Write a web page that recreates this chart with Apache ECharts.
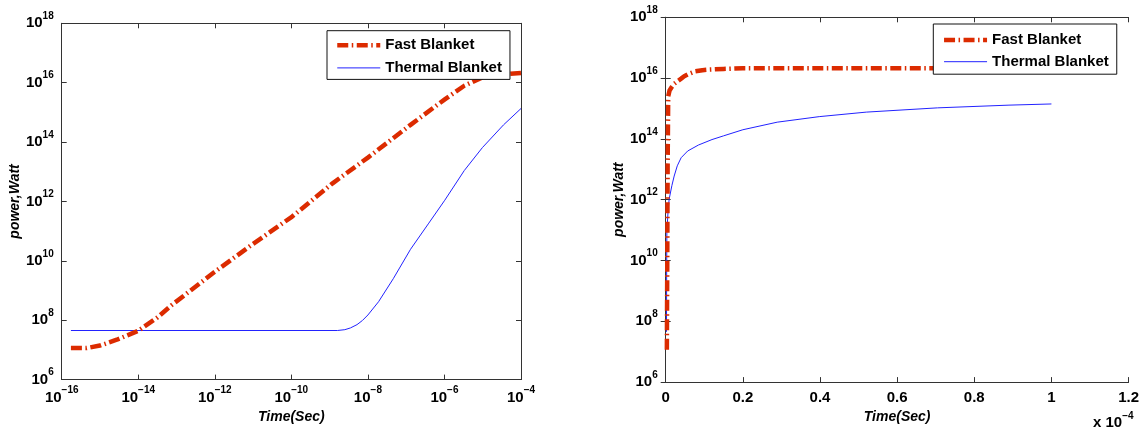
<!DOCTYPE html>
<html>
<head>
<meta charset="utf-8">
<script src="https://cdn.jsdelivr.net/npm/echarts@6/dist/echarts.min.js"></script>
<style>
html,body{margin:0;padding:0;background:#fff;}
#c{width:1142px;height:429px;}
</style>
</head>
<body>
<div id="c"></div>
<script>
// ---------------- data ----------------
const seriesNames = ['Fast Blanket', 'Thermal Blanket'];

// Left panel: log-log, time in seconds, power in watts
const leftFastTime  = [1.74e-16, 4.5e-16, 1e-15, 2.75e-15, 1e-14, 3.2e-14, 7.4e-14, 9.8e-13, 8.5e-12, 1.05e-10, 1.17e-9, 1e-8, 1.3e-7, 1.02e-6, 3.3e-6, 9.8e-6, 3.2e-5, 1e-4];
const leftFastPower = [1.15e7, 1.15e7, 1.4e7, 2.2e7, 4.4e7, 1.25e8, 3.2e8, 4.2e9, 3.2e10, 3.1e11, 4.0e12, 3.0e13, 3.8e14, 2.75e15, 7.9e15, 1.5e16, 1.9e16, 2.1e16];

const leftThermalTime  = [1.74e-16, 1.6e-9, 2.5e-9, 3.5e-9, 5.2e-9, 7.2e-9, 1e-8, 1.9e-8, 4.6e-8, 1.3e-7, 3.9e-7, 1.02e-6, 3.3e-6, 9.8e-6, 3.5e-5, 1e-4];
const leftThermalPower = [4.5e7, 4.5e7, 4.8e7, 5.5e7, 7.1e7, 9.8e7, 1.5e8, 4.2e8, 2.5e9, 2.45e10, 1.86e11, 1.1e12, 1.1e13, 6.5e13, 3.8e14, 1.35e15];

// Right panel: linear time axis in units of 1e-4 s, log power
const rightFastTime  = [0.003, 0.004, 0.005, 0.0065, 0.01, 0.0157, 0.022, 0.03, 0.04, 0.048, 0.06, 0.076, 0.095, 0.113, 0.15, 0.2, 0.3, 0.5, 0.7, 1.0];
const rightFastPower = [1.15e7, 7e9, 1.3e13, 2.5e15, 3.9e15, 5.1e15, 6.5e15, 7.8e15, 9.6e15, 1.15e16, 1.38e16, 1.66e16, 1.82e16, 1.9e16, 2.0e16, 2.1e16, 2.1e16, 2.1e16, 2.1e16, 2.1e16];

const rightThermalTime  = [0.002, 0.0025, 0.003, 0.006, 0.009, 0.016, 0.022, 0.03, 0.04, 0.057, 0.085, 0.12, 0.15, 0.2, 0.289, 0.398, 0.52, 0.705, 0.89, 1.0];
const rightThermalPower = [4.5e7, 5e9, 8.5e10, 3.9e11, 1.05e12, 2.9e12, 6e12, 1.3e13, 2.4e13, 4.0e13, 6.3e13, 9.5e13, 1.26e14, 2.0e14, 3.55e14, 5.4e14, 7.6e14, 1.05e15, 1.29e15, 1.41e15];

// Tick labels
const powerTicks = [1e6, 1e8, 1e10, 1e12, 1e14, 1e16, 1e18];
const leftTimeTicks = [1e-16, 1e-14, 1e-12, 1e-10, 1e-8, 1e-6, 1e-4];
const rightTimeTicks = [0, 0.2, 0.4, 0.6, 0.8, 1, 1.2];
const rightTimeExponent = -4;

const xTitle = 'Time(Sec)';
const yTitle = 'power,Watt';

// ---------------- styling ----------------
const FONT = '"Liberation Sans", Arial, Helvetica, sans-serif';
const RED = '#dc2b00';
const BLUE = '#2222ff';
const AXIS = '#333';

const rich = {
  b: {fontSize: 15, fontWeight: 'bold', fontFamily: FONT, color: '#000', lineHeight: 24},
  s: {fontSize: 10, fontWeight: 'bold', fontFamily: FONT, color: '#000', lineHeight: 10, verticalAlign: 'top'}
};
function powLabel(v) {
  const e = Math.round(Math.log10(v));
  return '{b|10}{s|' + String(e).replace('-', '\u2212') + '}';
}
function zip(a, b) { return a.map((v, i) => [v, b[i]]); }
// keep tick values safely inside the floating-point extent of a log axis
function inside(ticks) {
  return ticks.map((v, i) => i === 0 ? v * (1 + 1e-9) : (i === ticks.length - 1 ? v * (1 - 1e-9) : v));
}

const nameStyle = {fontSize: 14, fontWeight: 'bold', fontStyle: 'italic', fontFamily: FONT, color: '#000'};

function logXAxis(grid, pos, ticks, show) {
  return {
    type: 'log', gridIndex: grid, position: pos, min: ticks[0], max: ticks[ticks.length - 1], logBase: 10,
    axisLine: {show: true, lineStyle: {color: AXIS, width: 1}},
    axisTick: {show: true, inside: true, length: 5, customValues: inside(ticks), lineStyle: {color: AXIS}},
    axisLabel: show ? {show: true, customValues: inside(ticks), formatter: powLabel, rich: rich, margin: 6, hideOverlap: false} : {show: false},
    splitLine: {show: false}, minorTick: {show: false},
    name: show ? xTitle : '', nameLocation: 'middle', nameGap: 26.5, nameTextStyle: nameStyle
  };
}
function logYAxis(grid, pos, show, gap) {
  return {
    type: 'log', gridIndex: grid, position: pos, min: powerTicks[0], max: powerTicks[powerTicks.length - 1], logBase: 10,
    axisLine: {show: true, lineStyle: {color: AXIS, width: 1}},
    axisTick: {show: true, inside: true, length: 5, customValues: inside(powerTicks), lineStyle: {color: AXIS}},
    axisLabel: show ? {show: true, customValues: inside(powerTicks), formatter: powLabel, rich: rich, margin: 8, hideOverlap: false, showMaxLabel: true, showMinLabel: true} : {show: false},
    splitLine: {show: false}, minorTick: {show: false},
    name: show ? yTitle : '', nameLocation: 'middle', nameRotate: 90, nameGap: gap, nameTextStyle: nameStyle
  };
}
function linXAxis(grid, pos, show) {
  return {
    type: 'value', gridIndex: grid, position: pos, min: rightTimeTicks[0], max: rightTimeTicks[rightTimeTicks.length - 1], interval: 0.2,
    axisLine: {show: true, lineStyle: {color: AXIS, width: 1}},
    axisTick: {show: true, inside: true, length: 5, lineStyle: {color: AXIS}},
    axisLabel: show ? {show: true, margin: 8, fontSize: 15, fontWeight: 'bold', fontFamily: FONT, color: '#000'} : {show: false},
    splitLine: {show: false},
    name: show ? xTitle : '', nameLocation: 'middle', nameGap: 22, nameTextStyle: nameStyle
  };
}

function lineSeries(name, xi, yi, data, isFast) {
  return {
    type: 'line', name: name, xAxisIndex: xi, yAxisIndex: yi, data: data,
    symbol: 'none', showSymbol: false, smooth: false,
    lineStyle: isFast ? {color: RED, width: 4.5, type: [11, 3.5, 1.5, 3.5], cap: 'butt', join: 'round'} : {color: BLUE, width: 1},
    itemStyle: {color: isFast ? RED : BLUE},
    clip: true, z: isFast ? 3 : 2
  };
}

function legendAt(left, top, gap, padding) {
  return {
    orient: 'vertical', left: left, top: top, data: seriesNames,
    itemWidth: 43, itemHeight: 14, itemGap: gap, padding: padding,
    backgroundColor: '#fff', borderColor: '#111', borderWidth: 1, borderRadius: 0,
    selectedMode: false,
    lineStyle: {width: 'inherit'},
    itemStyle: {color: 'rgba(0,0,0,0)', borderWidth: 0, opacity: 0},
    textStyle: {fontSize: 15, fontWeight: 'bold', fontFamily: FONT, color: '#000'}
  };
}

const option = {
  backgroundColor: '#fff',
  animation: false,
  grid: [
    {left: 61.7, top: 23.3, width: 459.3, height: 362, containLabel: false},
    {left: 665.7, top: 17.3, width: 465.3, height: 366.7, containLabel: false}
  ],
  xAxis: [
    logXAxis(0, 'bottom', leftTimeTicks, true),
    logXAxis(0, 'top', leftTimeTicks, false),
    linXAxis(1, 'bottom', true),
    linXAxis(1, 'top', false)
  ],
  yAxis: [
    logYAxis(0, 'left', true, 38.5),
    logYAxis(0, 'right', false, 0),
    logYAxis(1, 'left', true, 39.5),
    logYAxis(1, 'right', false, 0)
  ],
  legend: [
    legendAt(327, 30.7, 7.7, [7, 8, 4, 8]),
    legendAt(933.3, 24, 6.7, [8.5, 8, 5, 8.5])
  ],
  series: [
    lineSeries(seriesNames[0], 0, 0, zip(leftFastTime, leftFastPower), true),
    lineSeries(seriesNames[1], 0, 0, zip(leftThermalTime, leftThermalPower), false),
    lineSeries(seriesNames[0], 2, 2, zip(rightFastTime, rightFastPower), true),
    lineSeries(seriesNames[1], 2, 2, zip(rightThermalTime, rightThermalPower), false)
  ],
  graphic: [{
    type: 'text', left: 1093, top: 411, z: 10,
    style: {text: '{b|x 10}{s|' + String(rightTimeExponent).replace('-', '\u2212') + '}', rich: rich}
  }]
};

const chart = echarts.init(document.getElementById('c'), null, {renderer: 'canvas'});
chart.setOption(option);
</script>
</body>
</html>
